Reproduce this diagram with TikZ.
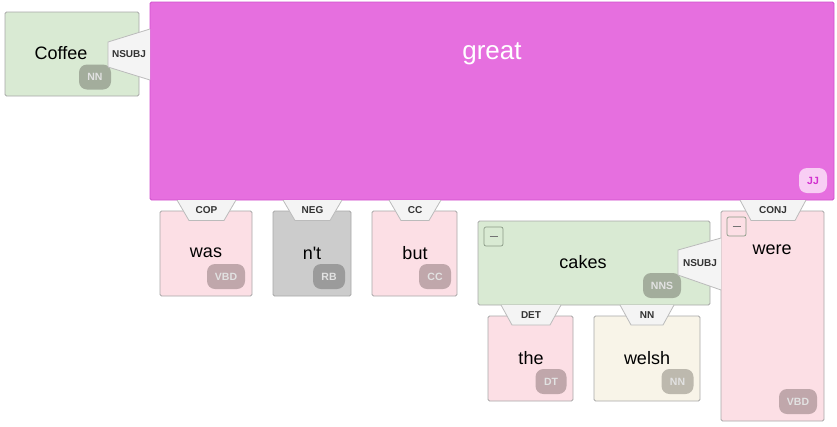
\documentclass[tikz,border=0pt]{standalone}
\usepackage{fontspec}
\setmainfont{Liberation Sans}
\newfontfamily\rawsans{Liberation Sans}
\definecolor{gfill}{HTML}{D9EAD3}
\definecolor{pfill}{HTML}{FCDFE5}
\definecolor{nfill}{HTML}{CCCCCC}
\definecolor{cfill}{HTML}{F8F4E8}
\definecolor{mfill}{HTML}{E66FDF}
\definecolor{mline}{HTML}{D050CC}
\definecolor{bline}{HTML}{A8A8A8}
\definecolor{gtag}{HTML}{A3AD9C}
\definecolor{ptag}{HTML}{C0A7AB}
\definecolor{ntag}{HTML}{9B9B9B}
\definecolor{ctag}{HTML}{BDB9AE}
\definecolor{jtag}{HTML}{F8CEF4}
\definecolor{jtext}{HTML}{D22FCF}
\definecolor{lfill}{HTML}{F4F4F4}
\definecolor{lline}{HTML}{BBBBBB}
\definecolor{mbline}{HTML}{8A9A86}
\definecolor{tagtext}{HTML}{E2E2E2}
\begin{document}
\begin{tikzpicture}[x=1pt,y=-1pt,
  wbox/.style={draw=bline, line width=0.8pt, rounded corners=1.5pt, inner sep=0pt},
  word/.style={font=\fontsize{18}{20}\selectfont, text=black, inner sep=0pt},
  tagbox/.style={rounded corners=8pt, inner sep=0pt, font=\bfseries\fontsize{10.5}{12}\selectfont, text=tagtext},
  lab/.style={fill=lfill, draw=lline, line width=0.8pt},
  labtext/.style={font=\bfseries\fontsize{10}{12}\selectfont, text=black!80, inner sep=0pt},
  minusbox/.style={draw=mbline, line width=0.7pt, rounded corners=2pt, minimum width=19pt, minimum height=19pt, inner sep=0pt},
  minusbar/.style={draw=black!55, line width=0.9pt}
]
\useasboundingbox (0,0) rectangle (837,426);
% boxes
\node[wbox, fill=gfill, minimum width=134pt, minimum height=84pt] (coffee) at (72,54) {};
\node[wbox, draw=mline, fill=mfill, minimum width=684pt, minimum height=198pt] (great) at (492,101) {};
\node[wbox, fill=pfill, minimum width=92pt, minimum height=85pt] (was) at (206,253.5) {};
\node[wbox, fill=nfill, minimum width=78pt, minimum height=85pt] (nt) at (312,253.5) {};
\node[wbox, fill=pfill, minimum width=85pt, minimum height=85pt] (but) at (414.5,253.5) {};
\node[wbox, fill=gfill, minimum width=232pt, minimum height=84pt] (cakes) at (594,263) {};
\node[wbox, fill=pfill, minimum width=85pt, minimum height=85pt] (the) at (530.5,358.5) {};
\node[wbox, fill=cfill, minimum width=106pt, minimum height=85pt] (welsh) at (647,358.5) {};
\node[wbox, fill=pfill, minimum width=103pt, minimum height=210pt] (were) at (772.5,316) {};
% words
\node[word] (tcoffee) at (61,53) {Coffee};
\node[word, text=white, font=\fontsize{26}{28}\selectfont] (tgreat) at (492,53.5) {great};
\node[word] (twas) at (206,253) {was};
\node[word] (tnt) at (312,253) {\rawsans n't};
\node[word] (tbut) at (415,253) {but};
\node[word] (tcakes) at (583,262) {cakes};
\node[word] (tthe) at (531,358) {the};
\node[word] (twelsh) at (647,358) {welsh};
\node[word] (twere) at (772,250) {were};
% tags
\node[tagbox, fill=gtag, minimum width=32pt, minimum height=25pt] (tagcoffee) at (95,77) {NN};
\node[tagbox, fill=jtag, text=jtext, minimum width=28pt, minimum height=25pt] (taggreat) at (813,180.5) {JJ};
\node[tagbox, fill=ptag, minimum width=38pt, minimum height=25pt] (tagwas) at (226,276.5) {VBD};
\node[tagbox, fill=ntag, minimum width=32pt, minimum height=25pt] (tagnt) at (329,276.5) {RB};
\node[tagbox, fill=ptag, minimum width=32pt, minimum height=25pt] (tagbut) at (435,276.5) {CC};
\node[tagbox, fill=gtag, minimum width=38pt, minimum height=25pt] (tagcakes) at (662,285.5) {NNS};
\node[tagbox, fill=ptag, minimum width=31pt, minimum height=25pt] (tagthe) at (551,381.5) {DT};
\node[tagbox, fill=ctag, minimum width=32pt, minimum height=25pt] (tagwelsh) at (677.5,381.5) {NN};
\node[tagbox, fill=ptag, minimum width=38pt, minimum height=25pt] (tagwere) at (798,401.5) {VBD};
% minus boxes
\node[minusbox] (mcakes) at (493.5,236.5) {};
\draw[minusbar] ([xshift=-4pt]mcakes.center) -- ([xshift=4pt]mcakes.center);
\node[minusbox] (mwere) at (736.5,226.5) {};
\draw[minusbar] ([xshift=-4pt]mwere.center) -- ([xshift=4pt]mwere.center);
% edge labels
\draw[lab] (150,29) -- (108,42) -- (108,67) -- (150,80);
\node[labtext] (lnsubj1) at (129,54) {NSUBJ};
\draw[lab] (177,200) -- (189,220.5) -- (224,220.5) -- (236,200);
\node[labtext] (lcop) at (206.5,210) {COP};
\draw[lab] (283,200) -- (295,220.5) -- (330,220.5) -- (342,200);
\node[labtext] (lneg) at (312.5,210) {NEG};
\draw[lab] (389,200) -- (401,220.5) -- (429,220.5) -- (441,200);
\node[labtext] (lcc) at (415,210) {CC};
\draw[lab] (740,200) -- (751,220.5) -- (795,220.5) -- (806,200);
\node[labtext] (lconj) at (773,210) {CONJ};
\draw[lab] (721,238) -- (678,250) -- (678,275) -- (721,290);
\node[labtext] (lnsubj2) at (700,263) {NSUBJ};
\draw[lab] (501,305) -- (512,325) -- (550,325) -- (561,305);
\node[labtext] (ldet) at (531,315) {DET};
\draw[lab] (620,305) -- (631,325) -- (663,325) -- (674,305);
\node[labtext] (lnn) at (647,315) {NN};
\end{tikzpicture}
\end{document}
